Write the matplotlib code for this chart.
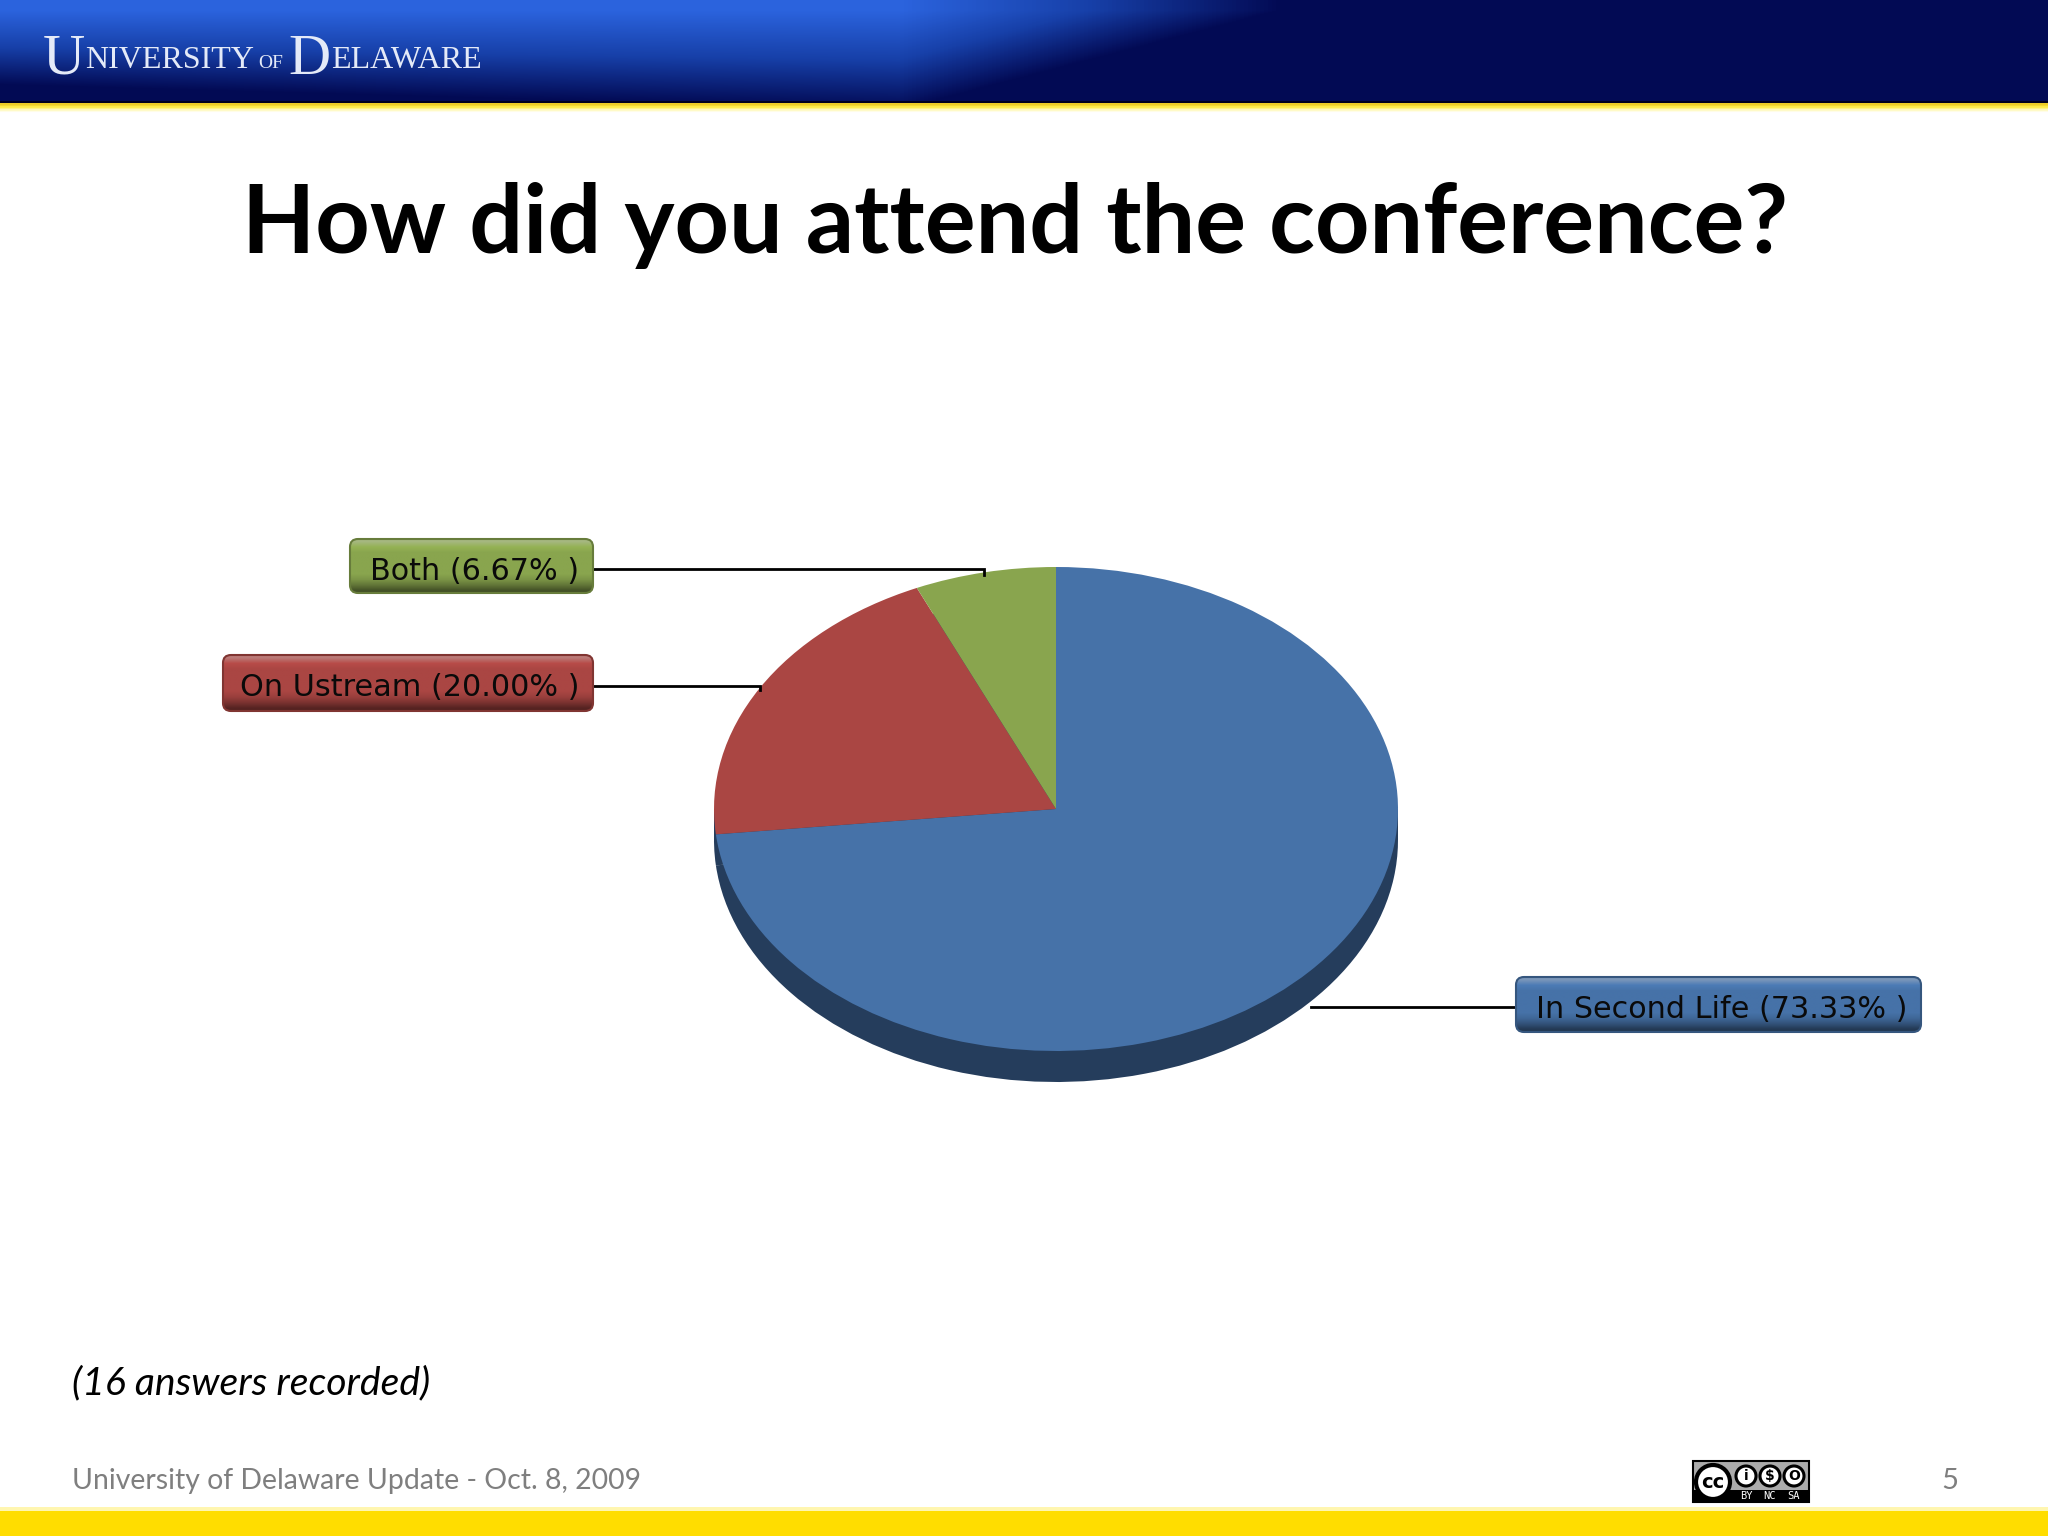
import matplotlib
matplotlib.use("Agg")
import matplotlib.pyplot as plt
import numpy as np
from matplotlib.patches import Rectangle, FancyBboxPatch, Circle

categories = ["In Second Life", "On Ustream", "Both"]
percents = [73.33, 20.00, 6.67]
slice_colors = ["#4672A8", "#AA4643", "#89A54E"]
rim_colors = ["#253D5C", "#5E2725", "#4B5A2B"]
title_text = "How did you attend the conference?"
note_text = "(16 answers recorded)"
footer_text = "University of Delaware Update - Oct. 8, 2009"
page_number = "5"

W, H = 2048, 1536
# pie ellipse in pixels
cx, cy, rx, ry, depth = 1056, 809, 342, 242, 31

plt.rcParams['font.family'] = ['Lato', 'DejaVu Sans']
fig = plt.figure(figsize=(W / 100, H / 100), dpi=100, facecolor="white")
ax = fig.add_axes([0, 0, 1, 1])
ax.set_xlim(0, W)
ax.set_ylim(H, 0)
ax.axis("off")


def header_image():
    """ Banner biru di atas """
    xs, ys = np.meshgrid(np.linspace(0, W, 512), np.linspace(0, 103, 103))
    bright = np.array([0.17, 0.39, 0.87])
    mid = np.array([0.09, 0.25, 0.66])
    navy = np.array([0.01, 0.04, 0.33])
    # batas gelap: swoosh yang turun ke kanan
    v = np.clip((ys - 10) / (75 + 25 * np.clip(xs / 900, 0, 1)), 0, 1)
    h = np.clip((xs - 900) / 380, 0, 1)
    k = np.clip(v + h, 0, 1)[..., None]
    img = np.where(k < 0.5, bright + (mid - bright) * k * 2, mid + (navy - mid) * (k - 0.5) * 2)
    return img


ax.imshow(header_image(), extent=(0, W, 103, 0), aspect="auto", zorder=1)
ax.add_patch(Rectangle((0, 101), W, 3, color="#000020", lw=0, zorder=2))
ax.imshow(np.array([[[0.93, 0.80, 0.15]], [[1, 0.93, 0.3]], [[1, 0.98, 0.75]], [[1, 1, 1]]]),
          extent=(0, W, 114, 103), aspect="auto", zorder=2)
ax.set_xlim(0, W)
ax.set_ylim(H, 0)
ax.add_patch(Rectangle((0, 1511), W, 25, color="#FFDD00", lw=0, zorder=2))
ax.add_patch(Rectangle((0, 1507), W, 4, color="#FFF6B0", lw=0, zorder=2))

# logo: (teks, ukuran, baseline, x awal)
logo_runs = [("U", 42, 74, 43), ("NIVERSITY", 23, 68, 85), ("OF", 14, 68, 258),
             ("D", 42, 74, 288), ("ELAWARE", 23, 68, 331)]
for s, size, base_y, x0 in logo_runs:
    ax.text(x0, base_y, s, family="Liberation Serif", fontsize=size, color="#E4EAF8", va="baseline", ha="left", zorder=3)

# judul dan teks
ax.text(1015, 253, title_text, fontsize=68.5, fontweight="bold", color="black", ha="center", va="baseline", zorder=3)
ax.text(72, 1394, note_text, fontsize=28.2, fontstyle="italic", color="black", ha="left", va="baseline", zorder=3)
ax.text(72, 1489, footer_text, fontsize=20.4, color="#7F7F7F", ha="left", va="baseline", zorder=3)
ax.text(1950, 1489, page_number, fontsize=21, color="#7F7F7F", ha="center", va="baseline", zorder=3)

# badge CC
ax.add_patch(Rectangle((1693, 1461), 116, 41, fc="#ABABAB", ec="black", lw=1.5, zorder=3))
ax.add_patch(Rectangle((1693, 1490), 116, 12, fc="black", lw=0, zorder=3))
ax.add_patch(Circle((1713, 1482), 17, fc="white", ec="black", lw=3, zorder=4))
ax.text(1713, 1482, "cc", fontsize=14, fontweight="bold", family="DejaVu Sans", ha="center", va="center", zorder=5)
for bx, glyph in zip([1746, 1770, 1794], ["i", "$", "O"]):
    ax.add_patch(Circle((bx, 1476), 10, fc="white", ec="black", lw=2.2, zorder=4))
    ax.text(bx, 1476, glyph, fontsize=10, fontweight="bold", family="DejaVu Sans", ha="center", va="center", zorder=5)
for bx, tag in zip([1746, 1770, 1794], ["BY", "NC", "SA"]):
    ax.text(bx, 1496, tag, fontsize=7.5, color="white", family="DejaVu Sans Mono", ha="center", va="center", zorder=5)


def pie_axes(center_y):
    """ Axes kecil yang pas menutupi elips pie """
    return fig.add_axes([(cx - rx) / W, 1 - (center_y + ry) / H, 2 * rx / W, 2 * ry / H], zorder=5)


# sisi pie (rim)
ax.add_patch(Rectangle((cx - rx, cy), 2 * rx, depth, fc=rim_colors[0], lw=0, zorder=4))
ax_rim = pie_axes(cy + depth)
ax_rim.pie(percents, colors=[rim_colors[0]] * 3, startangle=90, counterclock=False, radius=1)
ax_rim.set_aspect("auto")
ax_rim.set_xlim(-1, 1)
ax_rim.set_ylim(-1, 1)
ax_top = pie_axes(cy)
ax_top.pie(percents, colors=slice_colors, startangle=90, counterclock=False, radius=1)
ax_top.set_aspect("auto")
ax_top.set_xlim(-1, 1)
ax_top.set_ylim(-1, 1)
ax_top.patch.set_alpha(0)
ax_rim.patch.set_alpha(0)

# label
box_list = [(1516, 977, 405, 55), (223, 655, 370, 56), (350, 539, 243, 54)]
leaders = [[(1516, 1007), (1311, 1007)], [(593, 686), (760, 686), (760, 690)], [(593, 569), (984, 569), (984, 575)]]
ax_lab = fig.add_axes([0, 0, 1, 1], zorder=6)
ax_lab.set_xlim(0, W)
ax_lab.set_ylim(H, 0)
ax_lab.axis("off")
for name, val, col, box, line in zip(categories, percents, slice_colors, box_list, leaders):
    bx, by, bw, bh = box
    base = np.array(matplotlib.colors.to_rgb(col))
    pale = base * 0.65 + 0.3
    stops = [pale, base * 1.08, base, base, base, base, base, base * 0.9, base * 0.72, base * 0.5]
    grad = np.array(stops).clip(0, 1)[:, None, :]
    im = ax_lab.imshow(grad, extent=(bx, bx + bw, by + bh, by), aspect="auto", zorder=2, interpolation="bilinear")
    clip = FancyBboxPatch((bx + 6, by + 6), bw - 12, bh - 12, boxstyle="round,pad=6,rounding_size=8", transform=ax_lab.transData, fc="none", ec=base * 0.75, lw=1.5, zorder=2.5)
    ax_lab.add_patch(clip)
    im.set_clip_path(clip)
    ax_lab.text(bx + bw - 14, by + bh / 2 + 5, f"{name} ({val:.2f}% )", family="DejaVu Sans", fontsize=21.8, color="#0A0A0A", ha="right", va="center", zorder=3)
    ax_lab.plot([p[0] for p in line], [p[1] for p in line], color="black", lw=2, solid_joinstyle="miter", zorder=1)
ax_lab.set_xlim(0, W)
ax_lab.set_ylim(H, 0)

fig.savefig("out.png", dpi=100)
